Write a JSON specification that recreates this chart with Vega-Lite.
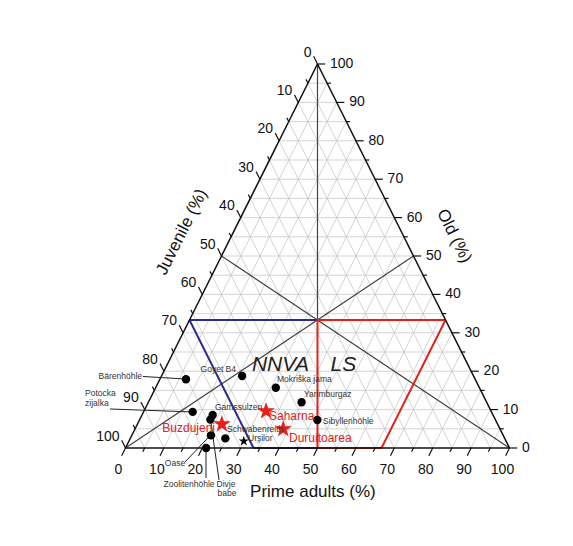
{
  "$schema": "https://vega.github.io/schema/vega-lite/v6.json",
  "width": 384,
  "height": 384,
  "autosize": {"type": "none"},
  "padding": {"left": 125.5, "top": 64, "right": 63.5, "bottom": 98},
  "background": "white",
  "config": {"view": {"stroke": null}, "text": {"font": "Liberation Sans"}},
  "datasets": {
    "steps": [{"v":0},{"v":5},{"v":10},{"v":15},{"v":20},{"v":25},{"v":30},{"v":35},{"v":40},{"v":45},{"v":50},{"v":55},{"v":60},{"v":65},{"v":70},{"v":75},{"v":80},{"v":85},{"v":90},{"v":95},{"v":100}],
    "edges": [
      {"P1": 0, "O1": 0, "P2": 100, "O2": 0},
      {"P1": 100, "O1": 0, "P2": 0, "O2": 100},
      {"P1": 0, "O1": 100, "P2": 0, "O2": 0}
    ],
    "medians": [
      {"P1": 0, "O1": 100, "P2": 33.333, "O2": 33.333},
      {"P1": 0, "O1": 0, "P2": 50, "O2": 50},
      {"P1": 100, "O1": 0, "P2": 0, "O2": 50}
    ],
    "nnva": [
      {"P1": 0, "O1": 33.333, "P2": 33.333, "O2": 33.333},
      {"P1": 33.333, "O1": 0, "P2": 50, "O2": 0},
      {"P1": 0, "O1": 33.333, "P2": 33.333, "O2": 0}
    ],
    "ls": [
      {"P1": 33.333, "O1": 33.333, "P2": 66.667, "O2": 33.333},
      {"P1": 66.667, "O1": 33.333, "P2": 66.667, "O2": 0},
      {"P1": 50, "O1": 0, "P2": 66.667, "O2": 0},
      {"P1": 33.333, "O1": 33.333, "P2": 50, "O2": 0}
    ],
    "sites": [
      {"site": "Bärenhöhle", "P": 6.8, "O": 17.9, "group": "reference"},
      {"site": "Goyet B4", "P": 21.0, "O": 18.75, "group": "reference"},
      {"site": "Mokriška jama", "P": 31.3, "O": 15.7, "group": "reference"},
      {"site": "Yarimburgaz", "P": 39.9, "O": 11.9, "group": "reference"},
      {"site": "Sibyllenhöhle", "P": 46.3, "O": 7.3, "group": "reference"},
      {"site": "Potocka zijalka", "P": 12.8, "O": 9.4, "group": "reference"},
      {"site": "Gamssulzen", "P": 18.4, "O": 8.6, "group": "reference"},
      {"site": "Divje babe", "P": 18.4, "O": 7.4, "group": "reference"},
      {"site": "Oase", "P": 20.6, "O": 3.3, "group": "reference"},
      {"site": "Schwabenreith", "P": 24.75, "O": 2.5, "group": "reference"},
      {"site": "Zoolitenhöhle", "P": 21.0, "O": 0.0, "group": "reference"},
      {"site": "Urşilor", "P": 29.9, "O": 1.8, "group": "romania"},
      {"site": "Buzdujeni", "P": 22.0, "O": 6.2, "group": "moldova"},
      {"site": "Saharna", "P": 31.8, "O": 9.6, "group": "moldova"},
      {"site": "Duruitoarea", "P": 38.6, "O": 4.95, "group": "moldova"}
    ],
    "leaders": [
      {"site": "Bärenhöhle", "x": 4.56, "y": 18.62, "x2": 15.49, "y2": 17.97},
      {"site": "Potocka zijalka", "x": -4.04, "y": 10.16, "x2": 17.5, "y2": 9.38},
      {"site": "Oase", "x": 15.49, "y": -3.65, "x2": 22.19, "y2": 3.39},
      {"site": "Zoolitenhöhle", "x": 20.96, "y": -7.81, "x2": 20.96, "y2": -0.26},
      {"site": "Divje babe", "x": 24.35, "y": -8.33, "x2": 22.14, "y2": 7.42}
    ],
    "labelsBlackRight": [
      {"t": "Bärenhöhle", "x": 4.3, "y": 18.75},
      {"t": "Goyet B4", "x": 28.78, "y": 20.57}
    ],
    "labelsBlackLeft": [
      {"t": "Potocka", "x": -10.55, "y": 14.32},
      {"t": "zijalka", "x": -10.55, "y": 11.72},
      {"t": "Mokriška jama", "x": 39.45, "y": 17.97},
      {"t": "Yarimburgaz", "x": 46.48, "y": 14.06},
      {"t": "Sibyllenhöhle", "x": 51.43, "y": 7.16},
      {"t": "Gamssulzen", "x": 23.31, "y": 10.76},
      {"t": "Schwabenreith", "x": 26.43, "y": 4.95},
      {"t": "Urşilor", "x": 31.9, "y": 2.73}
    ],
    "labelsBlackCenter": [
      {"t": "Oase", "x": 12.89, "y": -3.91},
      {"t": "Zoolitenhöhle", "x": 16.54, "y": -9.38},
      {"t": "Divje", "x": 26.17, "y": -9.38},
      {"t": "babe", "x": 26.43, "y": -11.72}
    ],
    "labelsRedLeft": [
      {"t": "Saharna", "x": 37.37, "y": 8.33},
      {"t": "Duruitoarea", "x": 42.58, "y": 2.73}
    ],
    "labelsRedRight": [
      {"t": "Buzdujeni", "x": 23.31, "y": 5.21}
    ],
    "zones": [
      {"t": "NNVA", "x": 40.36, "y": 21.61},
      {"t": "LS", "x": 56.72, "y": 21.61}
    ]
  },
  "encoding": {
    "x": {"field": "x", "type": "quantitative", "scale": {"domain": [0, 100], "nice": false, "zero": false}, "axis": null},
    "y": {"field": "y", "type": "quantitative", "scale": {"domain": [0, 100], "nice": false, "zero": false}, "axis": null}
  },
  "layer": [
    {
      "data": {"name": "steps"},
      "transform": [
        {"filter": "datum.v > 0 && datum.v < 100"},
        {"calculate": "datum.v / 2", "as": "x"},
        {"calculate": "datum.v", "as": "y"},
        {"calculate": "100 - datum.v / 2", "as": "x2"},
        {"calculate": "datum.v", "as": "y2"}
      ],
      "mark": {"type": "rule", "color": "#c8c8c8", "strokeWidth": 0.8},
      "encoding": {"x2": {"field": "x2"}, "y2": {"field": "y2"}}
    },
    {
      "data": {"name": "steps"},
      "transform": [
        {"filter": "datum.v > 0 && datum.v < 100"},
        {"calculate": "datum.v", "as": "x"},
        {"calculate": "0", "as": "y"},
        {"calculate": "datum.v + (100 - datum.v) / 2", "as": "x2"},
        {"calculate": "100 - datum.v", "as": "y2"}
      ],
      "mark": {"type": "rule", "color": "#c8c8c8", "strokeWidth": 0.8},
      "encoding": {"x2": {"field": "x2"}, "y2": {"field": "y2"}}
    },
    {
      "data": {"name": "steps"},
      "transform": [
        {"filter": "datum.v > 0 && datum.v < 100"},
        {"calculate": "100 - datum.v", "as": "x"},
        {"calculate": "0", "as": "y"},
        {"calculate": "(100 - datum.v) / 2", "as": "x2"},
        {"calculate": "100 - datum.v", "as": "y2"}
      ],
      "mark": {"type": "rule", "color": "#c8c8c8", "strokeWidth": 0.8},
      "encoding": {"x2": {"field": "x2"}, "y2": {"field": "y2"}}
    },
    {
      "data": {"name": "medians"},
      "transform": [
        {"calculate": "datum.P1 + datum.O1 / 2", "as": "x"},
        {"calculate": "datum.O1", "as": "y"},
        {"calculate": "datum.P2 + datum.O2 / 2", "as": "x2"},
        {"calculate": "datum.O2", "as": "y2"}
      ],
      "mark": {"type": "rule", "color": "#444444", "strokeWidth": 1.2},
      "encoding": {"x2": {"field": "x2"}, "y2": {"field": "y2"}}
    },
    {
      "data": {"name": "nnva"},
      "transform": [
        {"calculate": "datum.P1 + datum.O1 / 2", "as": "x"},
        {"calculate": "datum.O1", "as": "y"},
        {"calculate": "datum.P2 + datum.O2 / 2", "as": "x2"},
        {"calculate": "datum.O2", "as": "y2"}
      ],
      "mark": {"type": "rule", "strokeWidth": 2, "color": "#2b2b8f"},
      "encoding": {"x2": {"field": "x2"}, "y2": {"field": "y2"}}
    },
    {
      "data": {"name": "ls"},
      "transform": [
        {"calculate": "datum.P1 + datum.O1 / 2", "as": "x"},
        {"calculate": "datum.O1", "as": "y"},
        {"calculate": "datum.P2 + datum.O2 / 2", "as": "x2"},
        {"calculate": "datum.O2", "as": "y2"}
      ],
      "mark": {"type": "rule", "strokeWidth": 2, "color": "#e3201b"},
      "encoding": {"x2": {"field": "x2"}, "y2": {"field": "y2"}}
    },
    {
      "data": {"name": "edges"},
      "transform": [
        {"calculate": "datum.P1 + datum.O1 / 2", "as": "x"},
        {"calculate": "datum.O1", "as": "y"},
        {"calculate": "datum.P2 + datum.O2 / 2", "as": "x2"},
        {"calculate": "datum.O2", "as": "y2"}
      ],
      "mark": {"type": "rule", "color": "#111111", "strokeWidth": 1.5},
      "encoding": {"x2": {"field": "x2"}, "y2": {"field": "y2"}}
    },
    {
      "data": {"name": "steps"},
      "transform": [
        {"calculate": "datum.v % 10 == 0 ? 2 : 1", "as": "k"},
        {"calculate": "datum.v", "as": "x"},
        {"calculate": "0", "as": "y"},
        {"calculate": "datum.v - datum.k / 2", "as": "x2"},
        {"calculate": "-datum.k", "as": "y2"}
      ],
      "mark": {"type": "rule", "color": "#111111", "strokeWidth": 1.2},
      "encoding": {"x2": {"field": "x2"}, "y2": {"field": "y2"}}
    },
    {
      "data": {"name": "steps"},
      "transform": [
        {"calculate": "datum.v % 10 == 0 ? 2 : 1", "as": "k"},
        {"calculate": "100 - datum.v / 2", "as": "x"},
        {"calculate": "datum.v", "as": "y"},
        {"calculate": "100 - datum.v / 2 + datum.k", "as": "x2"},
        {"calculate": "datum.v", "as": "y2"}
      ],
      "mark": {"type": "rule", "color": "#111111", "strokeWidth": 1.2},
      "encoding": {"x2": {"field": "x2"}, "y2": {"field": "y2"}}
    },
    {
      "data": {"name": "steps"},
      "transform": [
        {"calculate": "datum.v % 10 == 0 ? 2 : 1", "as": "k"},
        {"calculate": "(100 - datum.v) / 2", "as": "x"},
        {"calculate": "100 - datum.v", "as": "y"},
        {"calculate": "(100 - datum.v) / 2 - datum.k / 2", "as": "x2"},
        {"calculate": "100 - datum.v + datum.k", "as": "y2"}
      ],
      "mark": {"type": "rule", "color": "#111111", "strokeWidth": 1.2},
      "encoding": {"x2": {"field": "x2"}, "y2": {"field": "y2"}}
    },
    {
      "data": {"name": "steps"},
      "transform": [
        {"filter": "datum.v % 10 == 0"},
        {"calculate": "datum.v", "as": "x"},
        {"calculate": "0", "as": "y"}
      ],
      "mark": {"type": "text", "fontSize": 14, "color": "#111111", "align": "center", "baseline": "middle", "dx": -7, "dy": 22},
      "encoding": {"text": {"field": "v", "type": "quantitative"}}
    },
    {
      "data": {"name": "steps"},
      "transform": [
        {"filter": "datum.v % 10 == 0"},
        {"calculate": "100 - datum.v / 2", "as": "x"},
        {"calculate": "datum.v", "as": "y"}
      ],
      "mark": {"type": "text", "fontSize": 14, "color": "#111111", "align": "left", "baseline": "middle", "dx": 12.5},
      "encoding": {"text": {"field": "v", "type": "quantitative"}}
    },
    {
      "data": {"name": "steps"},
      "transform": [
        {"filter": "datum.v % 10 == 0"},
        {"calculate": "(100 - datum.v) / 2", "as": "x"},
        {"calculate": "100 - datum.v", "as": "y"}
      ],
      "mark": {"type": "text", "fontSize": 14, "color": "#111111", "align": "right", "baseline": "middle", "dx": -6, "dy": -11.5},
      "encoding": {"text": {"field": "v", "type": "quantitative"}}
    },
    {
      "data": {"values": [{"t": "Prime adults (%)", "x": 48.8, "y": -11.5}]},
      "mark": {"type": "text", "fontSize": 17, "color": "#111111", "align": "center", "baseline": "middle"},
      "encoding": {"text": {"field": "t", "type": "nominal"}}
    },
    {
      "data": {"values": [{"t": "Juvenile (%)", "x": 14.7, "y": 56.25}]},
      "mark": {"type": "text", "fontSize": 17, "color": "#111111", "align": "center", "baseline": "middle", "angle": 296.6},
      "encoding": {"text": {"field": "t", "type": "nominal"}}
    },
    {
      "data": {"values": [{"t": "Old (%)", "x": 85.55, "y": 55.2}]},
      "mark": {"type": "text", "fontSize": 17, "color": "#111111", "align": "center", "baseline": "middle", "angle": 63.4},
      "encoding": {"text": {"field": "t", "type": "nominal"}}
    },
    {
      "data": {"name": "zones"},
      "mark": {"type": "text", "fontSize": 21, "fontStyle": "italic", "color": "#222222", "align": "center", "baseline": "middle"},
      "encoding": {"text": {"field": "t", "type": "nominal"}}
    },
    {
      "data": {"name": "leaders"},
      "mark": {"type": "rule", "color": "#222222", "strokeWidth": 1},
      "encoding": {"x2": {"field": "x2"}, "y2": {"field": "y2"}}
    },
    {
      "data": {"name": "sites"},
      "transform": [
        {"filter": "datum.group == 'reference'"},
        {"calculate": "datum.P + datum.O / 2", "as": "x"},
        {"calculate": "datum.O", "as": "y"}
      ],
      "mark": {"type": "point", "shape": "circle", "filled": true, "color": "#000000", "opacity": 1, "size": 70}
    },
    {
      "data": {"name": "sites"},
      "transform": [
        {"filter": "datum.group == 'romania'"},
        {"calculate": "datum.P + datum.O / 2", "as": "x"},
        {"calculate": "datum.O", "as": "y"}
      ],
      "mark": {"type": "point", "shape": "M0,-1L0.2245,-0.309L0.951,-0.309L0.363,0.118L0.588,0.809L0,0.382L-0.588,0.809L-0.363,0.118L-0.951,-0.309L-0.2245,-0.309Z", "filled": true, "color": "#000000", "opacity": 1, "size": 115}
    },
    {
      "data": {"name": "sites"},
      "transform": [
        {"filter": "datum.group == 'moldova'"},
        {"calculate": "datum.P + datum.O / 2", "as": "x"},
        {"calculate": "datum.O", "as": "y"}
      ],
      "mark": {"type": "point", "shape": "M0,-1L0.2245,-0.309L0.951,-0.309L0.363,0.118L0.588,0.809L0,0.382L-0.588,0.809L-0.363,0.118L-0.951,-0.309L-0.2245,-0.309Z", "filled": true, "color": "#e3201b", "opacity": 1, "size": 340}
    },
    {
      "data": {"name": "labelsBlackRight"},
      "mark": {"type": "text", "fontSize": 8.5, "color": "#333333", "align": "right", "baseline": "middle"},
      "encoding": {"text": {"field": "t", "type": "nominal"}}
    },
    {
      "data": {"name": "labelsBlackLeft"},
      "mark": {"type": "text", "fontSize": 8.5, "color": "#333333", "align": "left", "baseline": "middle"},
      "encoding": {"text": {"field": "t", "type": "nominal"}}
    },
    {
      "data": {"name": "labelsBlackCenter"},
      "mark": {"type": "text", "fontSize": 8.5, "color": "#333333", "align": "center", "baseline": "middle"},
      "encoding": {"text": {"field": "t", "type": "nominal"}}
    },
    {
      "data": {"name": "labelsRedLeft"},
      "mark": {"type": "text", "fontSize": 12, "color": "#e3201b", "align": "left", "baseline": "middle"},
      "encoding": {"text": {"field": "t", "type": "nominal"}}
    },
    {
      "data": {"name": "labelsRedRight"},
      "mark": {"type": "text", "fontSize": 12, "color": "#e3201b", "align": "right", "baseline": "middle"},
      "encoding": {"text": {"field": "t", "type": "nominal"}}
    }
  ]
}
